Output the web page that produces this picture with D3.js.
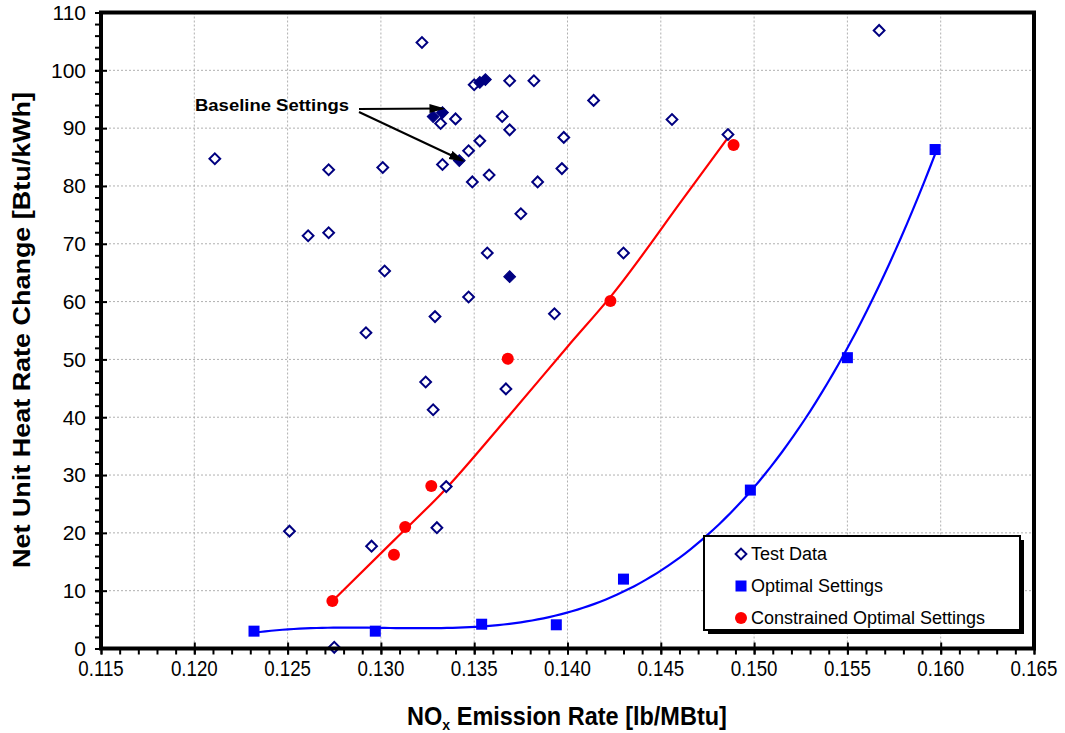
<!DOCTYPE html>
<html>
<head>
<meta charset="utf-8">
<script src="https://cdnjs.cloudflare.com/ajax/libs/d3/7.8.5/d3.min.js"></script>
<style>
  body { margin: 0; background: #fff; }
  text { font-family: "Liberation Sans", Arial, sans-serif; }
</style>
</head>
<body>
<svg width="1065" height="733"></svg>
<script>
var width = 1065;
var height = 733;

// test data (hollow diamonds)
var noxTest = [0.1211, 0.1272, 0.1272, 0.1261, 0.1301, 0.1302, 0.1292, 0.1251, 0.1295, 0.1322,
    0.1275, 0.1332, 0.1340, 0.1333, 0.1347, 0.1349, 0.1350, 0.1369, 0.1382, 0.1414,
    0.1456, 0.1486, 0.1365, 0.1369, 0.1353, 0.1398, 0.1358, 0.1384, 0.1397, 0.1375,
    0.1357, 0.1430, 0.1347, 0.1329, 0.1393, 0.1367, 0.1324, 0.1328, 0.1335, 0.1330, 0.1567];
var hrTest = [84.7, 82.8, 71.9, 71.4, 83.2, 65.3, 54.6, 20.3, 17.7, 104.8,
    0.2, 90.8, 91.6, 83.7, 86.1, 80.7, 97.5, 98.2, 98.2, 94.8,
    91.5, 88.9, 92.0, 89.7, 87.8, 88.4, 81.9, 80.7, 83.0, 75.2,
    68.4, 68.4, 60.8, 57.4, 57.9, 44.9, 46.1, 41.3, 28.0, 20.9, 106.9];

// baseline settings (filled diamonds)
var noxBase = [0.1328, 0.1333, 0.1342, 0.1353, 0.1356, 0.1369];
var hrBase = [92.0, 92.7, 84.4, 97.9, 98.4, 64.3];

// optimal settings
var noxOpt = [0.1232, 0.1297, 0.1354, 0.1394, 0.1430, 0.1498, 0.1550, 0.1597];
var hrOpt = [3.0, 3.0, 4.2, 4.1, 12.0, 27.4, 50.3, 86.3];

// constrained optimal settings
var noxCon = [0.1274, 0.1307, 0.1313, 0.1327, 0.1368, 0.1423, 0.1489];
var hrCon = [8.2, 16.2, 21.0, 28.1, 50.1, 60.1, 87.1];

// constrained trend curve
var noxConCurve = [0.1274, 0.1307, 0.1333, 0.1368, 0.1400, 0.1424, 0.1462, 0.1487];
var hrConCurve = [8.2, 18.7, 27.0, 40.0, 52.2, 61.2, 77.8, 88.8];

var xTicks = [0.115, 0.120, 0.125, 0.130, 0.135, 0.140, 0.145, 0.150, 0.155, 0.160, 0.165];
var yTicks = [0, 10, 20, 30, 40, 50, 60, 70, 80, 90, 100, 110];
var legendLabels = ["Test Data", "Optimal Settings", "Constrained Optimal Settings"];

var navy = "#000080", blue = "#0000ff", red = "#ff0000";

var svg = d3.select('svg');
svg.append("rect").attr("width", width).attr("height", height).attr("fill", "#fff");

var x = d3.scaleLinear().domain([0.115, 0.165]).range([101, 1034]);
var y = d3.scaleLinear().domain([0, 110]).range([648.5, 12.5]);

// gridlines
svg.append("g").selectAll("line")
    .data(xTicks.slice(1, -1))
    .enter().append("line")
    .attr("x1", function(d) { return x(d); })
    .attr("x2", function(d) { return x(d); })
    .attr("y1", y(110)).attr("y2", y(0))
    .attr("stroke", "#b0b0b0").attr("stroke-dasharray", "2,2");
svg.append("g").selectAll("line")
    .data(yTicks.slice(1, -1))
    .enter().append("line")
    .attr("y1", function(d) { return y(d); })
    .attr("y2", function(d) { return y(d); })
    .attr("x1", x(0.115)).attr("x2", x(0.165))
    .attr("stroke", "#b0b0b0").attr("stroke-dasharray", "2,2");

// least squares polynomial (excel style trendline)
function polyFit(xs, ys, order) {
    var mx = d3.mean(xs), sx = d3.deviation(xs);
    var n = order + 1;
    var A = [], b = [];
    for (var i = 0; i < n; i++) { A.push(new Array(n).fill(0)); b.push(0); }
    xs.forEach(function(v, k) {
        var t = (v - mx) / sx;
        for (var i = 0; i < n; i++) {
            b[i] += ys[k] * Math.pow(t, i);
            for (var j = 0; j < n; j++) A[i][j] += Math.pow(t, i + j);
        }
    });
    for (var c = 0; c < n; c++) {
        var p = c;
        for (var r = c + 1; r < n; r++) if (Math.abs(A[r][c]) > Math.abs(A[p][c])) p = r;
        var tmp = A[c]; A[c] = A[p]; A[p] = tmp;
        var tb = b[c]; b[c] = b[p]; b[p] = tb;
        for (var r = c + 1; r < n; r++) {
            var f = A[r][c] / A[c][c];
            for (var j = c; j < n; j++) A[r][j] -= f * A[c][j];
            b[r] -= f * b[c];
        }
    }
    var coef = new Array(n);
    for (var i = n - 1; i >= 0; i--) {
        var s = b[i];
        for (var j = i + 1; j < n; j++) s -= A[i][j] * coef[j];
        coef[i] = s / A[i][i];
    }
    return function(v) {
        var t = (v - mx) / sx, out = 0;
        for (var i = 0; i < n; i++) out += coef[i] * Math.pow(t, i);
        return out;
    };
}

var line = d3.line()
    .x(function(d) { return x(d[0]); })
    .y(function(d) { return y(d[1]); });

// red curve through the points
svg.append("path")
    .datum(d3.zip(noxConCurve, hrConCurve))
    .attr("fill", "none")
    .attr("stroke", red)
    .attr("stroke-width", 2.2)
    .attr("d", line.curve(d3.curveMonotoneX));

// blue trendline fitted to the optimal settings
var fitOpt = polyFit(noxOpt, hrOpt, 3);
var extOpt = d3.extent(noxOpt);
var optPts = d3.range(0, 121).map(function(i) {
    var v = extOpt[0] + (extOpt[1] - extOpt[0]) * i / 120;
    return [v, fitOpt(v)];
});
svg.append("path")
    .datum(optPts)
    .attr("fill", "none")
    .attr("stroke", blue)
    .attr("stroke-width", 2.2)
    .attr("d", line.curve(d3.curveLinear));

// markers
var diamond = d3.symbol().type(d3.symbolSquare).size(58)();
svg.append("g").selectAll("path")
    .data(d3.zip(noxTest, hrTest))
    .enter().append("path")
    .attr("d", diamond)
    .attr("transform", function(d) { return "translate(" + x(d[0]) + "," + y(d[1]) + ") rotate(45)"; })
    .attr("fill", "#fff").attr("stroke", navy).attr("stroke-width", 2);
svg.append("g").selectAll("path")
    .data(d3.zip(noxBase, hrBase))
    .enter().append("path")
    .attr("d", d3.symbol().type(d3.symbolSquare).size(70)())
    .attr("transform", function(d) { return "translate(" + x(d[0]) + "," + y(d[1]) + ") rotate(45)"; })
    .attr("fill", navy).attr("stroke", navy).attr("stroke-width", 1);
svg.append("g").selectAll("rect")
    .data(d3.zip(noxOpt, hrOpt))
    .enter().append("rect")
    .attr("x", function(d) { return x(d[0]) - 5.5; })
    .attr("y", function(d) { return y(d[1]) - 5.5; })
    .attr("width", 11).attr("height", 11)
    .attr("fill", blue);
svg.append("g").selectAll("circle")
    .data(d3.zip(noxCon, hrCon))
    .enter().append("circle")
    .attr("cx", function(d) { return x(d[0]); })
    .attr("cy", function(d) { return y(d[1]); })
    .attr("r", 6)
    .attr("fill", red);

// axes: minor ticks, then major ticks
var xMinor = d3.range(115, 166).map(function(d) { return d / 1000; });
var yMinor = d3.range(0, 111, 2);
svg.append("g")
    .attr("transform", "translate(0," + y(0) + ")")
    .call(d3.axisBottom(x).tickValues(xMinor).tickSize(6).tickFormat(""))
    .call(function(g) { g.select(".domain").remove(); g.selectAll("line").attr("stroke-width", 2); });
svg.append("g")
    .attr("transform", "translate(" + x(0.115) + ",0)")
    .call(d3.axisLeft(y).tickValues(yMinor).tickSize(6).tickFormat(""))
    .call(function(g) { g.select(".domain").remove(); g.selectAll("line").attr("stroke-width", 2); });

var xAxis = svg.append("g")
    .attr("transform", "translate(0," + y(0) + ")")
    .call(d3.axisBottom(x).tickValues(xTicks).tickSize(6).tickFormat(""));
xAxis.select(".domain").remove();
xAxis.selectAll("line").attr("y1", -6).attr("stroke-width", 2);

var yAxis = svg.append("g")
    .attr("transform", "translate(" + x(0.115) + ",0)")
    .call(d3.axisLeft(y).tickValues(yTicks).tickSize(6).tickFormat(""));
yAxis.select(".domain").remove();
yAxis.selectAll("line").attr("x1", 6).attr("stroke-width", 2);

// tick labels
var fmt = d3.format(".3f");
svg.append("g").selectAll("text")
    .data(xTicks)
    .enter().append("text")
    .attr("transform", function(d) { return "translate(" + x(d) + ",676) scale(0.85,1)"; })
    .attr("text-anchor", "middle")
    .style("font-size", "22px")
    .text(function(d) { return fmt(d); });
svg.append("g").selectAll("text")
    .data(yTicks)
    .enter().append("text")
    .attr("x", 86)
    .attr("y", function(d) { return y(d); })
    .attr("dy", "0.35em")
    .attr("text-anchor", "end")
    .style("font-size", "21px")
    .text(function(d) { return d; });

// plot frame
svg.append("rect")
    .attr("x", x(0.115)).attr("y", y(110))
    .attr("width", x(0.165) - x(0.115)).attr("height", y(0) - y(110))
    .attr("fill", "none").attr("stroke", "#000").attr("stroke-width", 4);

// axis titles
var yTitle = svg.append("text")
    .attr("transform", "translate(30,330) rotate(-90)")
    .attr("text-anchor", "middle")
    .style("font-size", "23px")
    .attr("font-weight", "bold")
    .text("Net Unit Heat Rate Change [Btu/kWh]");
yTitle.attr("textLength", 476).attr("lengthAdjust", "spacingAndGlyphs");

var xTitle = svg.append("text")
    .attr("text-anchor", "middle")
    .style("font-size", "25px")
    .attr("font-weight", "bold");
xTitle.append("tspan").text("NO");
xTitle.append("tspan").style("font-size", "15px").attr("dy", 5).text("x");
xTitle.append("tspan").attr("dy", -5).text(" Emission Rate [lb/MBtu]");
var xw = xTitle.node().getComputedTextLength();
xTitle.attr("transform", "translate(567,725) scale(" + (320 / xw) + ",1)");

// annotation
svg.append("defs").append("marker")
    .attr("id", "arrow")
    .attr("markerUnits", "userSpaceOnUse")
    .attr("markerWidth", 16).attr("markerHeight", 10)
    .attr("refX", 13).attr("refY", 5)
    .attr("orient", "auto")
    .append("path").attr("d", "M0,0.5 L16,5 L0,9.5 Z").attr("fill", "#000");

svg.append("text")
    .attr("x", 195).attr("y", 111)
    .style("font-size", "17px")
    .attr("font-weight", "bold")
    .attr("textLength", 154).attr("lengthAdjust", "spacingAndGlyphs")
    .text("Baseline Settings");
var arrowTargets = [[x(noxBase[1]), y(hrBase[1]) - 4], [x(noxBase[2]) + 3, y(hrBase[2])]];
var arrowStarts = [[359, 109], [359, 112]];
svg.append("g").selectAll("line")
    .data(arrowTargets)
    .enter().append("line")
    .attr("x1", function(d, i) { return arrowStarts[i][0]; })
    .attr("y1", function(d, i) { return arrowStarts[i][1]; })
    .attr("x2", function(d) { return d[0]; })
    .attr("y2", function(d) { return d[1]; })
    .attr("stroke", "#000").attr("stroke-width", 2)
    .attr("marker-end", "url(#arrow)");

// legend
var legend = svg.append("g").attr("transform", "translate(704,536)");
legend.append("rect").attr("x", 4).attr("y", 4).attr("width", 316).attr("height", 94).attr("fill", "#000");
legend.append("rect").attr("width", 316).attr("height", 94)
    .attr("fill", "#fff").attr("stroke", "#000").attr("stroke-width", 2);
var rows = legend.selectAll(".row")
    .data(legendLabels)
    .enter().append("g")
    .attr("transform", function(d, i) { return "translate(37," + (18 + i * 32) + ")"; });
rows.append("text")
    .attr("x", 10).attr("dy", "0.35em")
    .style("font-size", "18px")
    .text(function(d) { return d; });
rows.filter(function(d, i) { return i === 0; }).append("path")
    .attr("d", diamond).attr("transform", "rotate(45)")
    .attr("fill", "#fff").attr("stroke", navy).attr("stroke-width", 2);
rows.filter(function(d, i) { return i === 1; }).append("rect")
    .attr("x", -5.5).attr("y", -5.5).attr("width", 11).attr("height", 11).attr("fill", blue);
rows.filter(function(d, i) { return i === 2; }).append("circle")
    .attr("r", 6).attr("fill", red);
</script>
</body>
</html>
